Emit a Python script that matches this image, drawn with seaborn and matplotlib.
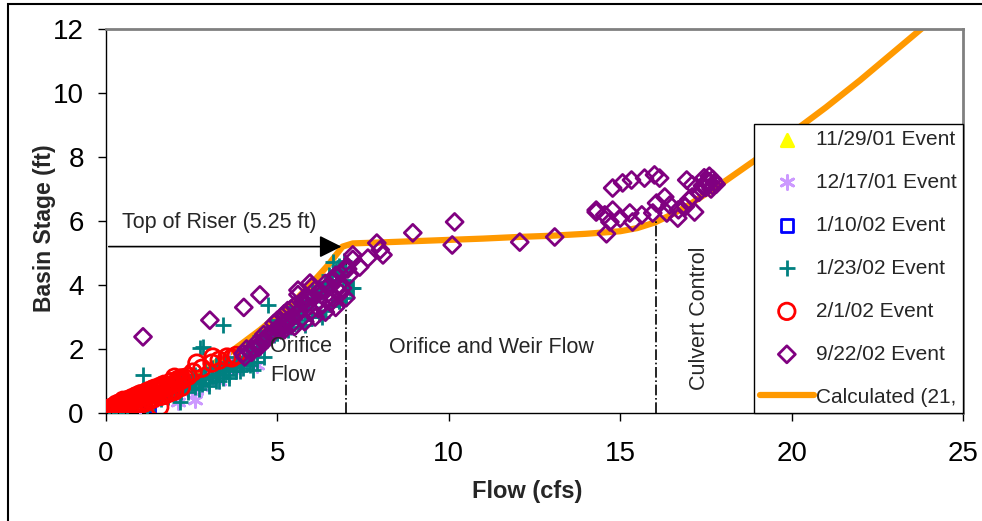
import numpy as np
import pandas as pd
import matplotlib
matplotlib.use("Agg")
import matplotlib.pyplot as plt
import seaborn as sns
from matplotlib.patches import Rectangle

# --- data (flow in cfs, stage in ft) ---
ev1129_x = [0.05, 0.2, 0.4, 0.6, 0.9, 1.2, 0.3]
ev1129_y = [0.02, 0.05, 0.1, 0.12, 0.15, 0.05, 0.0]

ev1217_x = [0.5, 1.0, 1.22, 1.5, 1.8, 2.0, 2.1, 2.3, 2.5, 2.6, 2.8, 3.0, 3.3, 3.38, 3.6, 3.8, 4.2, 4.4]
ev1217_y = [0.35, 0.2, 0.72, 0.45, 0.9, 0.55, 0.34, 1.0, 0.7, 0.4, 0.8, 1.3, 1.0, 1.25, 1.7, 1.3, 1.9, 1.5]

ev0110_x = [0.0, 0.05, 0.1, 0.15, 0.2, 0.3, 0.5, 1.0, 1.1, 1.25]
ev0110_y = [0.0, 0.1, 0.2, 0.05, 0.15, 0.1, 0.0, 0.02, 0.05, 0.0]

ev0123_x = [0.1, 0.2, 0.3, 0.4, 0.5, 0.6, 0.7, 0.8, 0.9, 1.0, 1.1, 1.2, 1.3, 1.4, 1.5,
            1.6, 1.7, 1.8, 1.9, 2.0, 2.1, 2.2, 2.3, 2.4, 2.5, 2.6, 2.7, 2.8, 2.9, 3.0,
            3.1, 3.2, 3.3, 3.4, 3.5, 3.6, 3.7, 3.8, 3.9, 4.0, 4.1, 4.2, 4.3, 4.4, 4.5,
            4.6, 4.7, 4.8, 4.9, 5.0, 5.1, 5.2, 5.3, 5.4, 5.5, 5.6, 5.7, 5.8, 5.9, 6.0,
            6.1, 6.2, 6.3, 6.4, 6.5, 6.6, 6.7, 6.8, 6.9,
            2.4, 2.7, 3.0, 3.3, 3.6, 3.9, 2.2, 2.6, 3.1, 3.5,
            4.3, 4.8, 5.3, 5.8, 6.3, 6.8, 7.2, 4.5, 5.0, 5.5, 6.0, 6.5, 6.8,
            1.6, 1.8, 2.0, 2.2, 2.4, 2.6, 2.8, 3.0, 3.2, 3.4, 3.6, 3.8, 4.0, 4.2,
            4.4, 4.6, 4.8, 5.0, 5.2, 5.4, 5.6, 5.8, 6.0, 6.2, 6.4, 6.6, 6.8, 7.0,
            2.5, 2.9, 3.2, 3.5, 3.8, 4.1, 4.4, 4.7, 5.1, 5.4, 5.7, 6.1, 6.4, 6.7, 6.95,
            1.08, 2.74, 3.41, 4.72, 4.29, 2.16, 2.83, 6.62, 7.17, 6.91, 7.11, 1.2, 0.6]
ev0123_y = [0.05, 0.1, 0.15, 0.2, 0.22, 0.3, 0.3, 0.35, 0.4, 0.4, 0.45, 0.5, 0.5, 0.55, 0.6,
            0.62, 0.65, 0.7, 0.72, 0.75, 0.8, 0.85, 0.85, 0.9, 0.95, 1.0, 1.0, 1.05, 1.1, 1.1,
            1.15, 1.2, 1.25, 1.3, 1.35, 1.4, 1.45, 1.5, 1.55, 1.6, 1.7, 1.8, 1.85, 1.95, 2.05,
            2.3, 2.35, 2.4, 2.45, 2.5, 2.6, 2.7, 2.8, 2.9, 3.0, 3.1, 3.2, 3.3, 3.4, 3.5,
            3.6, 3.7, 3.8, 3.95, 4.05, 4.15, 4.3, 4.4, 4.5,
            0.65, 0.75, 0.85, 1.0, 1.1, 1.3, 1.05, 1.2, 1.4, 1.6,
            1.6, 2.45, 2.6, 2.75, 3.0, 3.5, 3.9, 2.4, 2.9, 3.3, 3.8, 4.3, 4.6,
            0.45, 0.5, 0.6, 0.65, 0.75, 0.8, 0.9, 0.95, 1.0, 1.1, 1.2, 1.3, 1.4, 1.5,
            1.6, 1.75, 2.4, 2.5, 2.6, 2.7, 2.8, 2.9, 3.0, 3.1, 3.2, 3.35, 3.5, 3.6,
            1.2, 1.35, 1.5, 1.55, 1.75, 2.0, 2.2, 2.5, 2.85, 3.1, 3.4, 3.75, 4.1, 4.45, 4.75,
            1.19, 2.03, 2.75, 3.38, 1.34, 0.34, 2.06, 4.72, 3.91, 4.16, 3.9, 0.1, 0.05]

ev0201_x = [0.0, 0.05, 0.1, 0.15, 0.2, 0.3, 0.4, 0.5, 0.6, 0.7, 0.8, 0.9, 1.0, 1.1, 1.2,
            1.3, 1.4, 1.5, 1.6, 1.7, 1.8, 1.9, 2.0, 2.1, 2.2,
            0.3, 0.6, 0.9, 1.2, 0.5, 1.0, 1.5, 1.8, 2.0,
            0.1, 0.2, 0.4, 0.5, 0.7, 0.8, 1.0, 1.1, 1.3, 1.4, 1.6, 1.7, 1.9, 2.0, 2.2,
            0.1, 0.2, 0.3, 0.4, 0.6, 0.7, 0.8, 0.9, 1.1, 1.2, 1.3, 1.4, 1.6, 1.7, 1.9,
            2.1, 2.2, 2.4,
            1.57, 2.0, 2.3, 2.54, 2.65, 2.8, 3.09, 3.12, 3.3, 3.53, 3.67, 3.8]
ev0201_y = [0.0, 0.05, 0.08, 0.1, 0.12, 0.15, 0.2, 0.25, 0.3, 0.33, 0.38, 0.42, 0.47, 0.5, 0.55,
            0.6, 0.63, 0.68, 0.72, 0.77, 0.82, 0.87, 0.92, 0.97, 1.02,
            0.05, 0.15, 0.25, 0.35, 0.4, 0.6, 0.8, 0.6, 0.7,
            0.0, 0.03, 0.08, 0.12, 0.18, 0.2, 0.28, 0.3, 0.4, 0.45, 0.52, 0.55, 0.65, 0.68, 0.8,
            0.15, 0.2, 0.28, 0.32, 0.4, 0.45, 0.5, 0.55, 0.62, 0.68, 0.72, 0.77, 0.85, 0.9, 0.98,
            1.05, 1.1, 1.15,
            0.19, 1.12, 1.1, 1.28, 1.56, 1.4, 1.56, 1.75, 1.65, 1.75, 1.72, 1.8]

ev0922_x = [4.0, 4.3, 4.6, 4.9, 5.2, 5.5, 5.8, 6.1, 6.4, 6.7, 7.0,
            4.1, 4.4, 4.7, 5.0, 5.3, 5.6, 5.9, 6.2, 6.5, 6.8, 7.1,
            4.6, 4.9, 5.2, 5.5, 5.8, 6.1, 6.4, 6.7, 7.0, 7.2,
            4.2, 4.5, 4.8, 5.1, 5.4, 5.7, 6.0, 6.3, 6.6, 6.9, 5.3, 5.9, 6.5, 5.6, 6.0,
            4.05, 4.25, 4.45, 4.65, 4.85, 5.05, 5.25, 5.45, 5.65, 5.85, 6.05, 6.25,
            6.45, 6.65, 6.85, 7.05, 5.0, 5.4, 5.75, 6.2, 6.55, 6.85,
            1.08, 3.03, 4.02, 4.49, 5.6, 5.95,
            7.2, 7.4, 7.64, 7.9, 8.08, 8.0, 8.95, 10.17, 10.1, 12.07, 13.09,
            14.78, 15.07, 15.33, 15.71, 16.0, 16.15, 16.94, 17.1, 17.6, 17.5, 17.7, 17.8,
            17.4, 17.55, 17.65, 17.75, 17.45, 17.6, 17.7,
            17.1, 17.0, 17.3, 14.3, 14.55, 14.7, 14.78, 15.0, 15.28, 15.36, 15.63,
            16.06, 16.3, 15.95, 16.36, 16.68, 17.17, 14.6, 14.3, 16.7, 16.45, 16.9]
ev0922_y = [1.85, 2.0, 2.3, 2.55, 2.6, 2.7, 2.85, 3.0, 3.15, 3.3, 3.6,
            2.0, 2.2, 2.4, 2.65, 2.9, 3.1, 3.3, 3.5, 3.75, 4.0, 4.3,
            2.45, 2.8, 3.1, 3.35, 3.6, 3.85, 4.05, 4.3, 4.55, 4.8,
            1.95, 2.1, 2.45, 2.6, 2.75, 2.95, 3.2, 3.4, 3.6, 3.9, 3.2, 3.6, 4.0, 3.7, 3.95,
            1.75, 1.9, 2.05, 2.25, 2.5, 2.65, 2.8, 3.0, 3.2, 3.4, 3.6, 3.8,
            3.95, 4.15, 4.35, 4.5, 2.9, 3.25, 3.45, 3.25, 3.45, 3.75,
            2.38, 2.9, 3.3, 3.69, 3.84, 4.06,
            4.94, 4.56, 4.84, 5.31, 4.94, 5.1, 5.63, 5.97, 5.25, 5.34, 5.5,
            7.03, 7.19, 7.28, 7.34, 7.44, 7.34, 7.28, 7.13, 7.22, 7.05, 7.3, 7.15,
            7.1, 7.25, 7.0, 7.2, 7.35, 7.4, 7.1,
            6.75, 6.66, 6.9, 6.34, 6.19, 5.97, 6.34, 6.09, 6.25, 5.97, 6.19,
            6.56, 6.75, 6.25, 6.25, 6.09, 6.28, 5.6, 6.28, 6.35, 6.5, 6.45]

calc_x = [0, 0.5, 1, 1.5, 2, 2.5, 3, 3.5, 4, 4.5, 5, 5.5, 6, 6.5, 6.9, 7.2, 8, 9, 10, 11,
          12, 13, 14, 15, 15.5, 16, 16.5, 17, 17.5, 18, 19, 20, 21, 22, 23, 24]
calc_y = [0, 0.15, 0.35, 0.55, 0.8, 1.1, 1.45, 1.8, 2.2, 2.6, 3.05, 3.5, 4.05, 4.65, 5.2,
          5.3, 5.33, 5.37, 5.41, 5.45, 5.5, 5.54, 5.6, 5.68, 5.78, 5.95, 6.2, 6.5, 6.85,
          7.2, 7.95, 8.75, 9.55, 10.4, 11.3, 12.2]

sns.set_style("ticks")
plt.rcParams["font.family"] = ["Liberation Sans", "DejaVu Sans"]

fig = plt.figure(figsize=(9.82, 5.21), dpi=100)
ax = fig.add_axes([106 / 982, 1 - 413 / 521, 857 / 982, 384 / 521])

calc = pd.DataFrame({"Flow": calc_x, "Stage": calc_y})
sns.lineplot(data=calc, x="Flow", y="Stage", sort=False, color="#FF9900", lw=4.5,
             ax=ax, zorder=1, label="Calculated (21,")

# scatter series: (label, x, y, marker, size, color, hollow)
series = [
    ("11/29/01 Event", ev1129_x, ev1129_y, "^", 80, "#FFFF00", False),
    ("12/17/01 Event", ev1217_x, ev1217_y, (6, 2, 0), 100, "#CC99FF", False),
    ("1/10/02 Event", ev0110_x, ev0110_y, "s", 80, "#0000FF", True),
    ("1/23/02 Event", ev0123_x, ev0123_y, "+", 120, "#008080", False),
    ("2/1/02 Event", ev0201_x, ev0201_y, "o", 140, "#FF0000", True),
    ("9/22/02 Event", ev0922_x, ev0922_y, "D", 75, "#800080", True),
]
for i, (lab, xs, ys, mk, sz, col, hollow) in enumerate(series):
    if hollow:
        sns.scatterplot(x=xs, y=ys, marker=mk, s=sz, color=col, facecolor="none",
                        edgecolor=col, linewidth=2, ax=ax, zorder=2 + i, label=lab)
    else:
        sns.scatterplot(x=xs, y=ys, marker=mk, s=sz, color=col, edgecolor=col,
                        linewidth=2, ax=ax, zorder=2 + i, label=lab)

ax.set_xlim(0, 25)
ax.set_ylim(0, 12)
ax.set_xticks([0, 5, 10, 15, 20, 25])
ax.set_yticks([0, 2, 4, 6, 8, 10, 12])
ax.tick_params(axis="both", labelsize=20, direction="out", length=6, width=1, colors="black")
ax.tick_params(axis="x", pad=14)
ax.tick_params(axis="y", pad=10)
for side in ["top", "right"]:
    ax.spines[side].set_visible(True)
    ax.spines[side].set_color("#808080")
    ax.spines[side].set_linewidth(2)
for side in ["left", "bottom"]:
    ax.spines[side].set_color("black")
    ax.spines[side].set_linewidth(1)
ax.set_xlabel("Flow (cfs)", fontsize=17, fontweight="bold")
ax.set_ylabel("Basin Stage (ft)", fontsize=16.5, fontweight="bold")
ax.xaxis.set_label_coords(0.492, -0.175)
ax.yaxis.set_label_coords(-0.058, 0.48)

# annotations
ax.annotate("", xy=(6.95, 5.2), xytext=(0, 5.2),
            arrowprops=dict(arrowstyle="-|>", mutation_scale=34, color="black", lw=1.2))
ax.text(0.47, 5.94, "Top of Riser (5.25 ft)", fontsize=15.5, va="center", ha="left")
ax.vlines(7, 0, 4.9, colors="black", linestyles="-.", lw=1.2, zorder=1.5)
ax.vlines(16.05, 0, 6.0, colors="black", linestyles="-.", lw=1.2, zorder=1.5)
ax.text(4.78, 1.62, "Orifice\nFlow", fontsize=15.5, ha="left", va="center",
        linespacing=1.5, zorder=15)
ax.text(11.25, 2.06, "Orifice and Weir Flow", fontsize=15.5, ha="center", va="center")
ax.text(17.3, 2.97, "Culvert Control", fontsize=15.5, ha="center", va="center", rotation=90)

handles, labels = ax.get_legend_handles_labels()
order = [1, 2, 3, 4, 5, 6, 0]
leg = ax.legend([handles[i] for i in order], [labels[i] for i in order],
                loc="lower right", bbox_to_anchor=(1, 0), borderaxespad=0,
                fontsize=15, frameon=True, fancybox=False, edgecolor="black",
                framealpha=1, labelspacing=1.15, handlelength=2.6,
                handletextpad=0.1, borderpad=0.3)
leg.get_frame().set_linewidth(1)
leg.set_zorder(20)

# outer figure border (left and top edges visible)
fig.add_artist(Rectangle((8 / 982, -0.1), 1.2, 1.1 - 4 / 521, transform=fig.transFigure,
                         fill=False, edgecolor="black", lw=1.5, clip_on=False))

fig.savefig("out.png", dpi=100)
